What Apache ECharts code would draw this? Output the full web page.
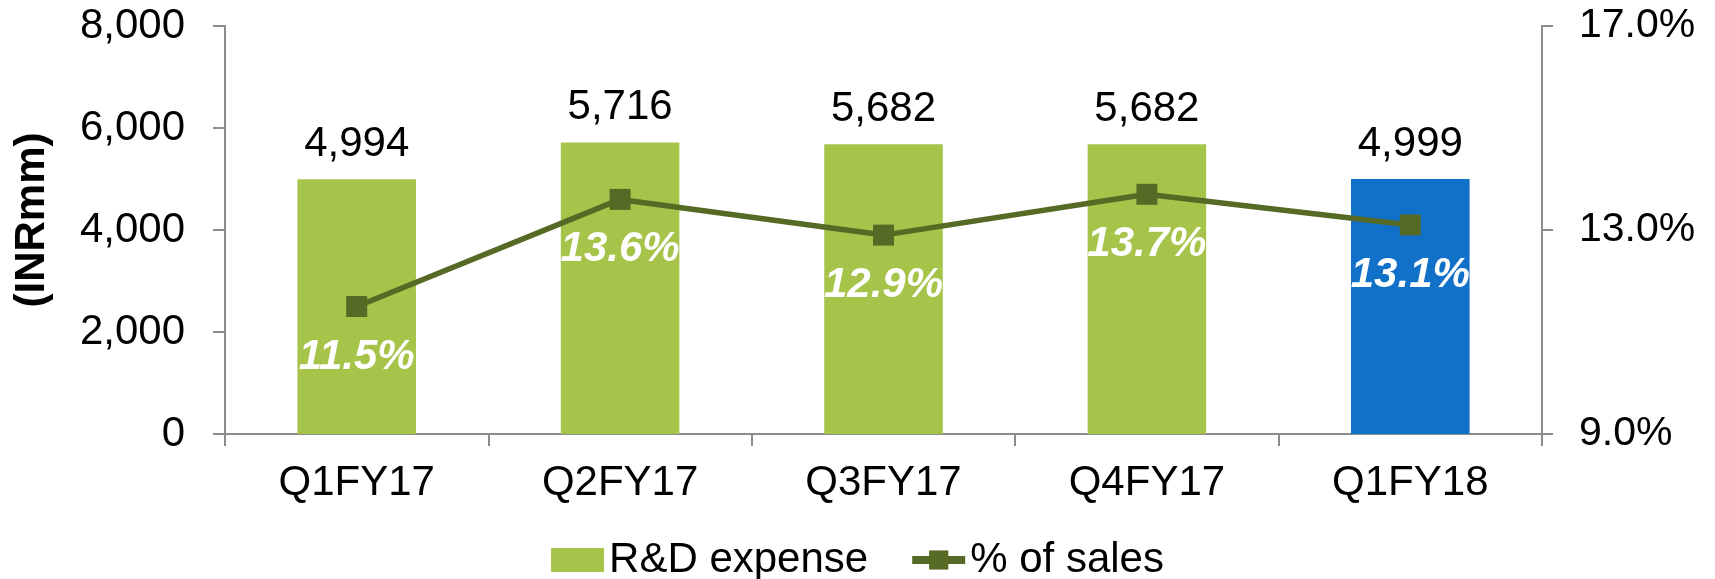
<!DOCTYPE html>
<html>
<head>
<meta charset="utf-8">
<script src="https://cdn.jsdelivr.net/npm/echarts@6/dist/echarts.min.js"></script>
<style>
  html, body { margin: 0; padding: 0; background: #fff; }
  #chart { width: 1715px; height: 579px; }
</style>
</head>
<body>
<div id="chart"></div>
<script>
// data
var quarters = ['Q1FY17', 'Q2FY17', 'Q3FY17', 'Q4FY17', 'Q1FY18'];
var rdExpense = [4994, 5716, 5682, 5682, 4999];
var pctOfSales = [11.5, 13.6, 12.9, 13.7, 13.1];

var GREEN = '#a6c34a';
var BLUE = '#1170c8';
var OLIVE = '#566a26';
var AXIS = '#8c8c8c';
var FONT = 'Liberation Sans, Arial, sans-serif';

var myChart = echarts.init(document.getElementById('chart'));

option = {
    animation: false,
    textStyle: { fontFamily: FONT },
    grid: { left: 225, right: 173, top: 26, bottom: 145, outerBoundsMode: 'none' },
    legend: {
        bottom: -7,
        left: 'center',
        itemWidth: 53,
        itemHeight: 24,
        itemGap: 40,
        textStyle: { fontSize: 42, color: '#000', fontFamily: FONT },
        data: [
            { name: 'R&D expense', icon: 'rect', itemStyle: { color: GREEN } },
            { name: '% of sales', lineStyle: { width: 8 } }
        ]
    },
    xAxis: {
        type: 'category',
        data: quarters,
        boundaryGap: true,
        axisLine: { lineStyle: { color: AXIS, width: 2 } },
        axisTick: { show: true, length: 12, lineStyle: { color: AXIS, width: 2 } },
        axisLabel: { fontSize: 42, color: '#000', margin: 28, fontFamily: FONT }
    },
    yAxis: [
        {
            type: 'value',
            min: 0,
            max: 8000,
            interval: 2000,
            name: '(INRmm)',
            nameLocation: 'middle',
            nameGap: 172,
            nameRotate: 90,
            nameTextStyle: { fontSize: 42, fontWeight: 'bold', color: '#000', fontFamily: FONT, padding: [0, 0, 0, 20] },
            axisLine: { show: true, lineStyle: { color: AXIS, width: 2 } },
            axisTick: { show: true, length: 12, lineStyle: { color: AXIS, width: 2 } },
            splitLine: { show: false },
            axisLabel: {
                fontSize: 42, color: '#000', margin: 40, fontFamily: FONT,
                formatter: function (v) { return v.toLocaleString('en-US'); }
            }
        },
        {
            type: 'value',
            min: 9,
            max: 17,
            interval: 4,
            position: 'right',
            axisLine: { show: true, lineStyle: { color: AXIS, width: 2 } },
            axisTick: { show: true, length: 11, lineStyle: { color: AXIS, width: 2 } },
            splitLine: { show: false },
            axisLabel: {
                fontSize: 41, color: '#000', margin: 37, fontFamily: FONT,
                formatter: function (v) { return v.toFixed(1) + '%'; }
            }
        }
    ],
    series: [
        {
            name: 'R&D expense',
            type: 'bar',
            barWidth: '45%',
            itemStyle: { color: GREEN },
            label: {
                show: true,
                position: 'top',
                distance: 14,
                fontSize: 42,
                color: '#000',
                fontFamily: FONT,
                formatter: function (p) { return p.value.toLocaleString('en-US'); }
            },
            data: rdExpense.map(function (v, i) {
                return {
                    value: v,
                    itemStyle: { color: i === rdExpense.length - 1 ? BLUE : GREEN }
                };
            })
        },
        {
            name: '% of sales',
            type: 'line',
            yAxisIndex: 1,
            symbol: 'rect',
            symbolSize: 21,
            lineStyle: { color: OLIVE, width: 5.5 },
            itemStyle: { color: OLIVE },
            label: {
                show: true,
                position: 'bottom',
                distance: 19,
                fontSize: 42,
                fontWeight: 'bold',
                fontStyle: 'italic',
                color: '#fff',
                fontFamily: FONT,
                formatter: function (p) { return p.value.toFixed(1) + '%'; }
            },
            data: pctOfSales
        }
    ]
};

myChart.setOption(option);
</script>
</body>
</html>
